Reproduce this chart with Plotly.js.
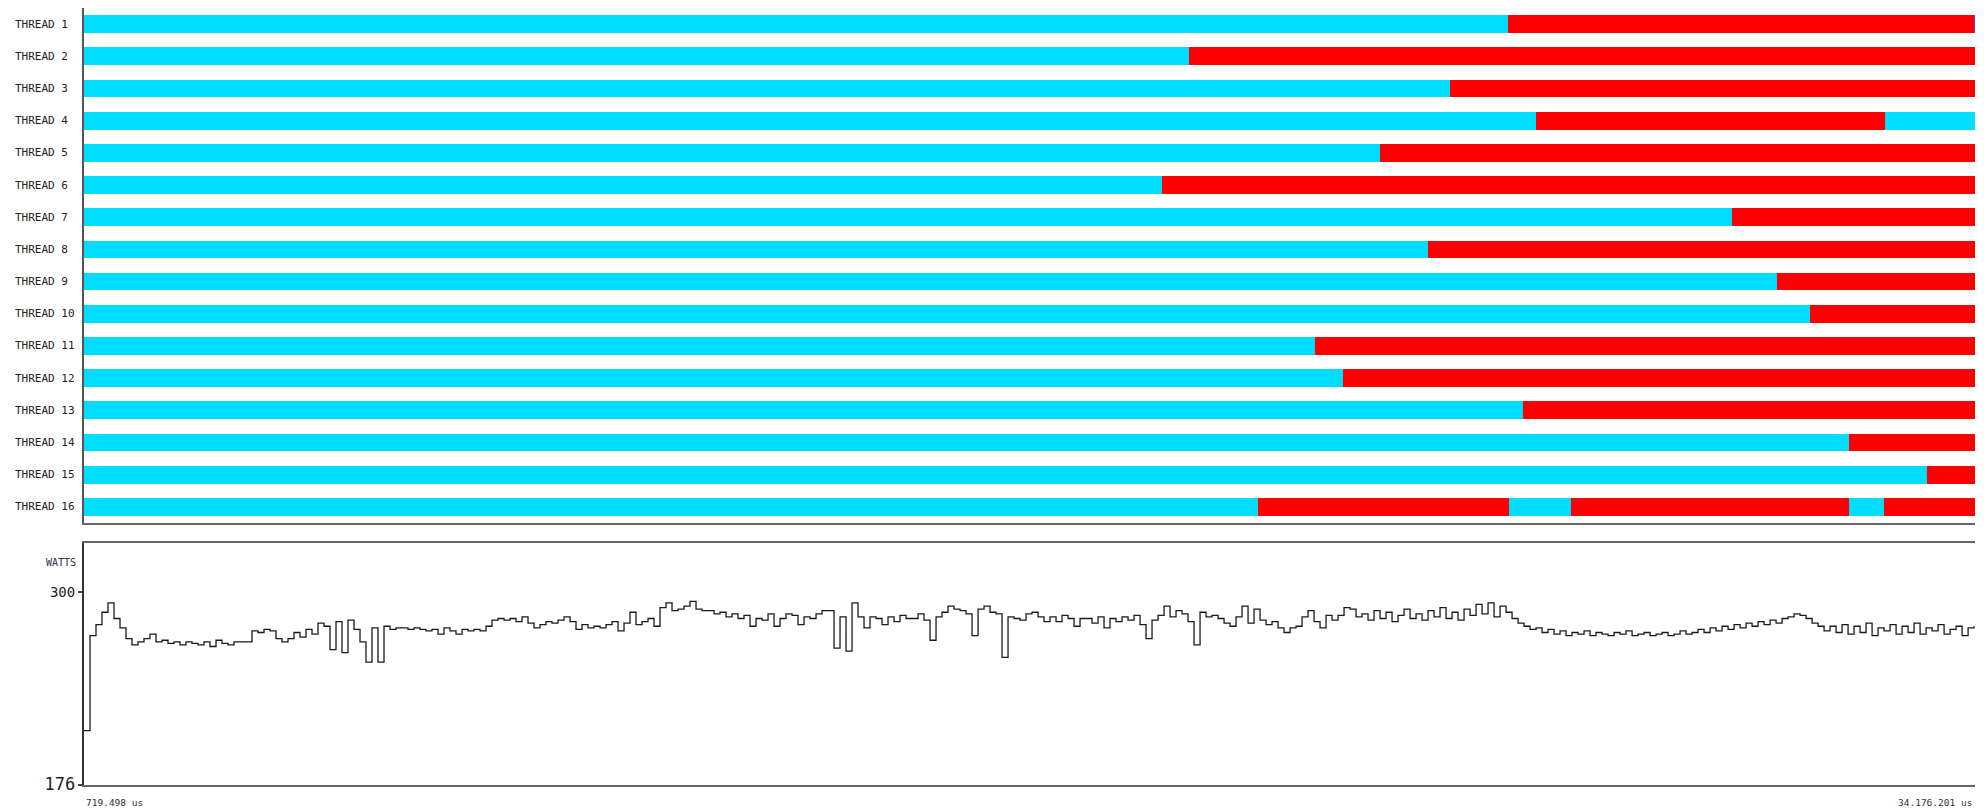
<!DOCTYPE html>
<html>
<head>
<meta charset="utf-8">
<script src="https://cdn.plot.ly/plotly-3.0.1.min.js"></script>
<style>
  html, body { margin: 0; padding: 0; background: #fff; }
  #chart { width: 1987px; height: 811px; }
</style>
</head>
<body>
<div id="chart"></div>
<script>
// ---------------- DATA ----------------
const threadLabels = ['THREAD 1','THREAD 2','THREAD 3','THREAD 4','THREAD 5','THREAD 6','THREAD 7','THREAD 8',
                      'THREAD 9','THREAD 10','THREAD 11','THREAD 12','THREAD 13','THREAD 14','THREAD 15','THREAD 16'];

const timeStart = 719.498;     // us
const timeEnd = 34176.201;     // us

// segment boundaries (us) for each thread, in order
const segmentEdges = [
  [719.498, 25914, 34150, 34176.201],
  [719.498, 20263, 34176.201],
  [719.498, 24882, 34176.201],
  [719.498, 26408, 32585, 34176.201],
  [719.498, 23650, 34176.201],
  [719.498, 19792, 34176.201],
  [719.498, 29883, 34176.201],
  [719.498, 24500, 34176.201],
  [719.498, 30667, 34176.201],
  [719.498, 31250, 34176.201],
  [719.498, 22507, 34176.201],
  [719.498, 22998, 34176.201],
  [719.498, 26183, 34176.201],
  [719.498, 31946, 34176.201],
  [719.498, 33328, 34176.201],
  [719.498, 21491, 25932, 27029, 31948, 32567, 34176.201]
];
// state of each segment
const segmentStates = [
  ['run','wait','other'],
  ['run','wait'],
  ['run','wait'],
  ['run','wait','run'],
  ['run','wait'],
  ['run','wait'],
  ['run','wait'],
  ['run','wait'],
  ['run','wait'],
  ['run','wait'],
  ['run','wait'],
  ['run','wait'],
  ['run','wait'],
  ['run','wait'],
  ['run','wait'],
  ['run','wait','run','wait','run','wait']
];
const stateNames = ['run','wait','other'];

// power samples (W), one every sampleStep us from timeStart
const sampleStep = 106.16;
const watts = [
  211, 272, 279, 287, 293, 283, 277, 270, 266, 268,
  270, 273, 268, 269, 267, 268, 266, 268, 267, 266,
  268, 265, 269, 267, 266, 268, 268, 268, 275, 274,
  276, 275, 270, 268, 270, 274, 271, 276, 273, 280,
  278, 263, 281, 261, 282, 276, 268, 255, 277, 255,
  278, 276, 277,
  277, 276, 277, 276, 275, 276, 273, 277, 275, 273,
  276, 275, 276, 275, 278, 282, 283, 282, 283, 281,
  284, 280, 277, 279, 281, 280, 282, 284, 281, 276,
  279, 277, 278, 277, 279, 281, 275, 280, 287, 279,
  281, 283, 278, 290, 293, 288, 289, 291, 294, 289,
  288, 288, 286, 287,
  284, 286, 283, 285, 278, 283, 282, 286, 278, 283,
  286, 285, 279, 284, 283, 286, 288, 288, 264, 284,
  262, 293, 284, 277, 284, 283, 279, 284, 281, 285,
  283, 283, 286, 282, 269, 284, 287, 291, 289, 288,
  286, 272, 289, 291, 287, 286, 258, 284, 283, 282,
  286, 287, 284,
  281, 284, 281, 285, 283, 278, 283, 283, 280, 284,
  277, 283, 281, 284, 282, 285, 279, 270, 282, 285,
  291, 284, 288, 286, 281, 266, 287, 284, 285, 283,
  280, 278, 284, 291, 280, 289, 282, 279, 281, 277,
  274, 277, 278, 284, 288, 281, 277, 285, 282, 285,
  290, 289, 284,
  286, 282, 288, 283, 287, 281, 285, 289, 283, 286,
  282, 288, 284, 290, 283, 287, 282, 289, 285, 292,
  286, 293, 284, 291, 287, 283, 280, 278, 276, 277,
  274, 276, 273, 275, 272, 274, 273, 275, 272, 274,
  273, 272, 274, 273, 275, 272, 273, 274, 272, 273,
  274, 272, 273, 275, 273, 274, 276, 274, 277, 275,
  278, 276, 279, 277, 280, 278, 281, 279, 282, 280,
  283, 284, 286, 285, 283, 280, 278, 275, 278, 274,
  279, 273, 278, 274, 280, 272, 277, 275, 279, 273,
  278, 274, 280, 273, 277, 275, 279, 273, 276, 278,
  272, 277, 278
];

const wattsTickValues = [176, 300];
const wattsTickLabels = ['<span style="font-size:17px">176</span>', '300'];
const wattsRange = [176, 331.5];
const timeLabels = ['719.498 us', '34.176.201 us'];
const wattsLabel = 'WATTS';

// ---------------- STYLE ----------------
const stateColors = { run: '#00DDFF', wait: '#FF0000', other: '#5533FF' };
const W = 1987, H = 811;
const px = v => v / W;
const py = v => 1 - v / H;

// ---------------- TRACES ----------------
const traces = [];
stateNames.forEach(st => {
  const ys = [], bases = [], lens = [];
  segmentEdges.forEach((edges, t) => {
    segmentStates[t].forEach((s, k) => {
      if (s === st) {
        ys.push(threadLabels[t]);
        bases.push(edges[k]);
        lens.push(edges[k + 1] - edges[k]);
      }
    });
  });
  traces.push({
    type: 'bar', orientation: 'h', y: ys, x: lens, base: bases,
    xaxis: 'x', yaxis: 'y', width: 0.55,
    marker: { color: stateColors[st], line: { width: 0 } },
    hoverinfo: 'skip', showlegend: false
  });
});

const sampleTimes = watts.map((_, i) => timeStart + i * sampleStep);
traces.push({
  type: 'scatter', mode: 'lines', x: sampleTimes, y: watts,
  xaxis: 'x2', yaxis: 'y2',
  line: { color: '#1a1a1a', width: 1.3, shape: 'hv' },
  hoverinfo: 'skip', showlegend: false
});

const smallFont = { family: 'DejaVu Sans Mono, monospace', size: 9.5, color: '#333' };
const threadFont = { family: 'DejaVu Sans Mono, monospace', size: 11, color: '#222' };

const annotations = threadLabels.map(lbl => ({
  text: lbl, xref: 'paper', yref: 'y', x: px(13), y: lbl,
  xanchor: 'left', yanchor: 'middle', showarrow: false, font: threadFont
}));
annotations.push(
  { text: wattsLabel, xref: 'paper', yref: 'paper', x: px(78), y: py(562),
    xanchor: 'right', yanchor: 'middle', showarrow: false,
    font: { family: 'DejaVu Sans Mono, monospace', size: 10, color: '#334' } },
  { text: timeLabels[0], xref: 'paper', yref: 'paper', x: px(84), y: py(802),
    xanchor: 'left', yanchor: 'middle', showarrow: false, font: smallFont },
  { text: timeLabels[1], xref: 'paper', yref: 'paper', x: px(1974), y: py(802),
    xanchor: 'right', yanchor: 'middle', showarrow: false, font: smallFont }
);

const layout = {
  width: W, height: H,
  margin: { l: 0, r: 0, t: 0, b: 0 },
  paper_bgcolor: '#fff', plot_bgcolor: '#fff',
  barmode: 'overlay', bargap: 0,
  showlegend: false,
  xaxis: {
    domain: [px(84), px(1975)], range: [timeStart, timeEnd], anchor: 'y',
    showticklabels: false, ticks: '', showgrid: false, zeroline: false,
    showline: true, linecolor: '#666', linewidth: 2
  },
  yaxis: {
    domain: [py(523), py(8)], anchor: 'x', type: 'category',
    categoryorder: 'array', categoryarray: threadLabels, autorange: 'reversed',
    showgrid: false, zeroline: false, ticks: '', showticklabels: false,
    showline: true, linecolor: '#555', linewidth: 2
  },
  xaxis2: {
    domain: [px(84), px(1975)], range: [timeStart, timeEnd], anchor: 'y2',
    showticklabels: false, ticks: '', showgrid: false, zeroline: false,
    showline: true, mirror: true, linecolor: '#666', linewidth: 2
  },
  yaxis2: {
    domain: [py(785), py(543)], anchor: 'x2', range: wattsRange,
    tickmode: 'array', tickvals: wattsTickValues, ticktext: wattsTickLabels,
    ticks: 'outside', ticklen: 4, tickcolor: '#444', tickwidth: 1.5,
    showgrid: false, zeroline: false,
    showline: true, linecolor: '#333', linewidth: 2,
    tickfont: { family: 'DejaVu Sans Mono, monospace', size: 14, color: '#222' }
  },
  annotations: annotations
};

Plotly.newPlot('chart', traces, layout, { staticPlot: true, displayModeBar: false });
</script>
</body>
</html>
